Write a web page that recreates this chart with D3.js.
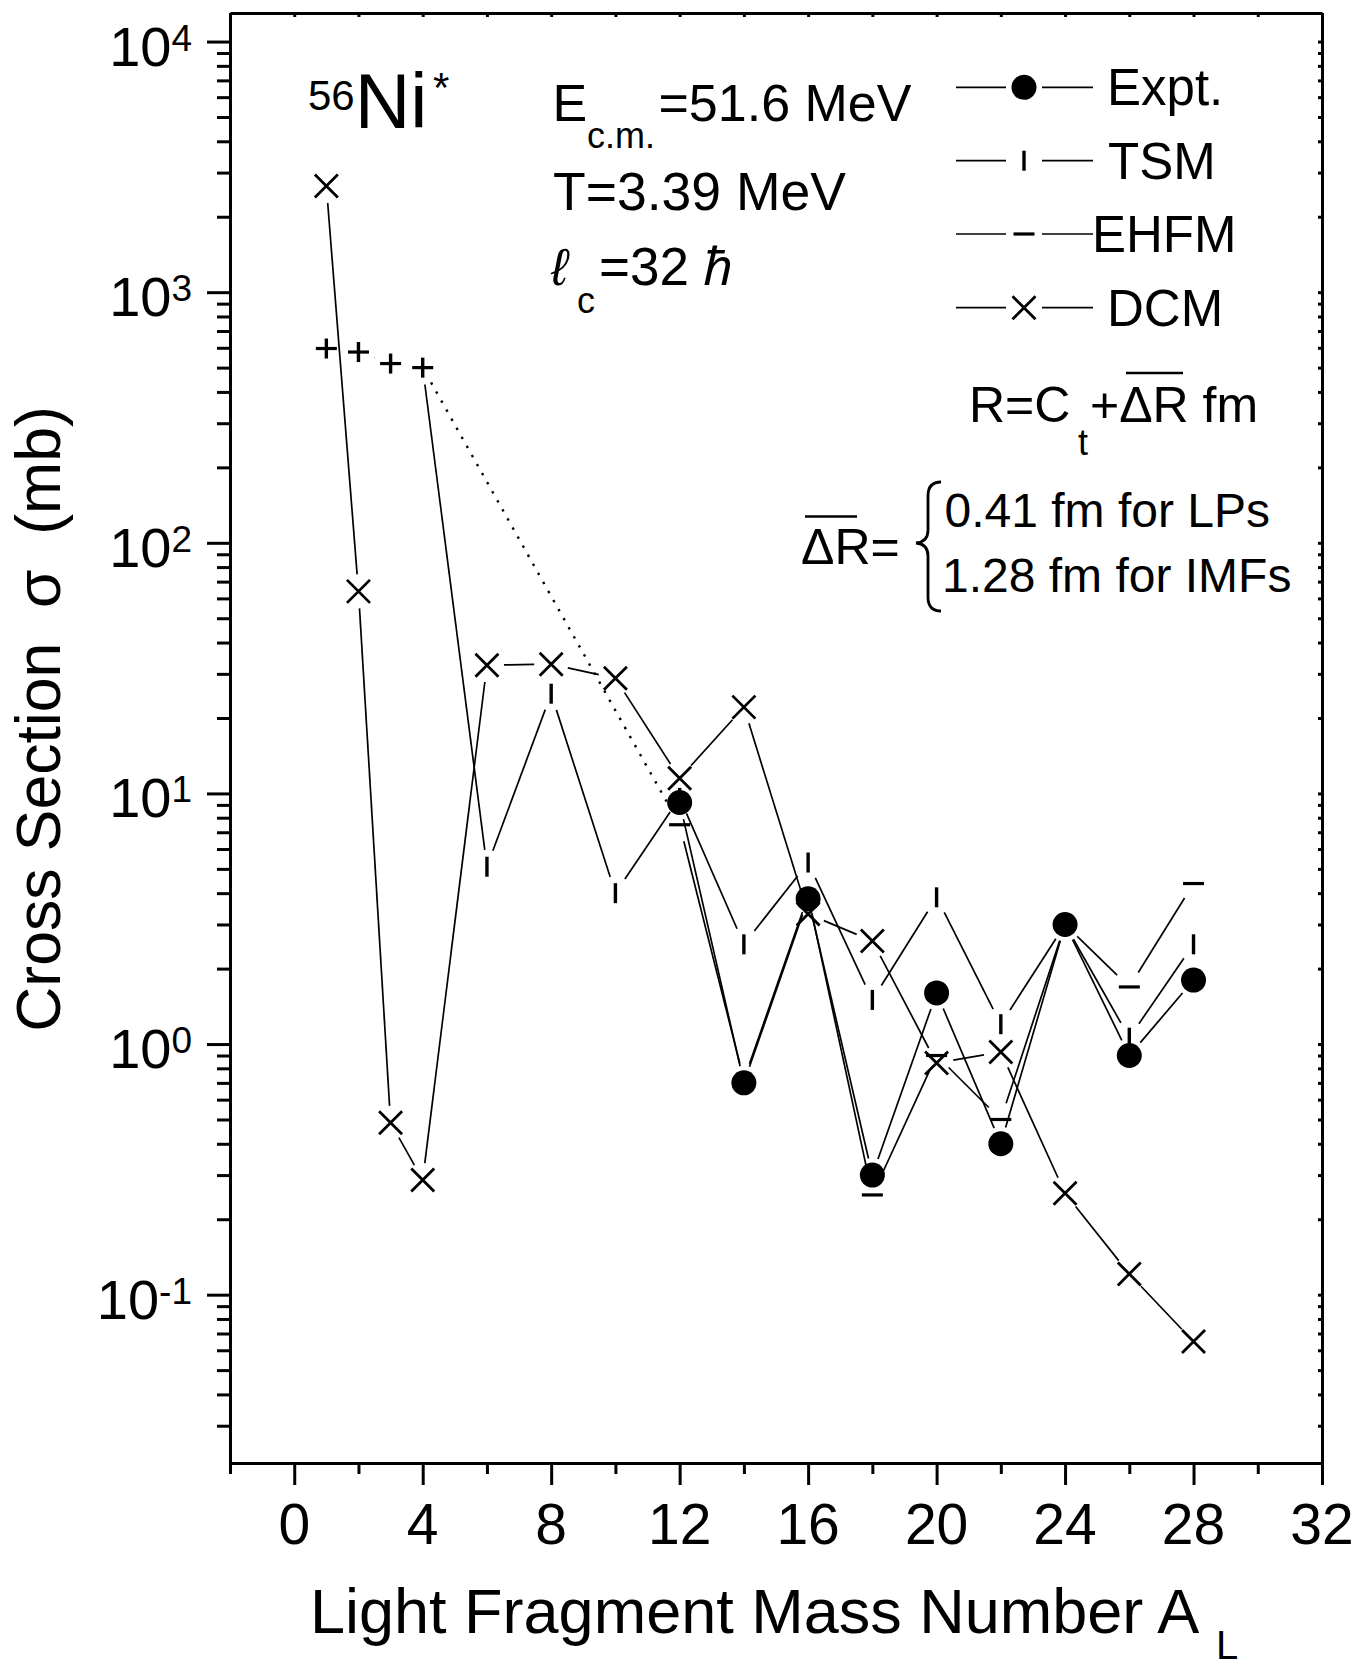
<!DOCTYPE html>
<html>
<head>
<meta charset="utf-8">
<script src="https://cdn.jsdelivr.net/npm/d3@7"></script>
<style>
  body { margin: 0; background: #fff; }
  svg { display: block; }
  text { font-family: "Liberation Sans", Arial, "Noto Sans", sans-serif; fill: #000; }
</style>
</head>
<body>
<svg id="chart" width="1358" height="1667"></svg>
<script>
// Light fragment mass number A_L and cross sections (mb) for 56Ni*
const exptA     = [12, 14, 16, 18, 20, 22, 24, 26, 28];
const exptSigma = [9.2, 0.70, 3.8, 0.30, 1.6, 0.40, 3.0, 0.90, 1.8];

const tsmA      = [1, 2, 3, 4, 6, 8, 10, 12, 14, 16, 18, 20, 22, 24, 26, 28];
const tsmSigma  = [596, 577, 519, 500, 5.1, 25, 4.0, 9.6, 2.5, 5.3, 1.5, 3.85, 1.2, 3.0, 1.06, 2.5];

const ehfmA     = [1, 2, 3, 4, 12, 14, 16, 18, 20, 22, 24, 26, 28];
const ehfmSigma = [596, 577, 519, 500, 7.5, 0.72, 3.9, 0.25, 0.9, 0.5, 3.0, 1.69, 4.37];

const dcmA      = [1, 2, 3, 4, 6, 8, 10, 12, 14, 16, 18, 20, 22, 24, 26, 28];
const dcmSigma  = [2650, 64, 0.485, 0.287, 32.5, 32.8, 28.8, 11.5, 22.1, 3.3, 2.58, 0.84, 0.93, 0.254, 0.121, 0.065];

const xMajorTicks = [0, 4, 8, 12, 16, 20, 24, 28, 32];
const xMinorTicks = [-2, 2, 6, 10, 14, 18, 22, 26, 30];
const yDecades    = [-1, 0, 1, 2, 3, 4];
const legendNames = ["Expt.", "TSM", "EHFM", "DCM"];

const svg = d3.select("#chart");
svg.append("rect").attr("width", 1358).attr("height", 1667).attr("fill", "#fff");

const x = d3.scaleLinear().domain([-2, 32]).range([230, 1322]);
const y = d3.scaleLog().domain([0.0213, 13000]).range([1463, 13]);

const [X0, X1] = x.range();
const [Y0, Y1] = y.range();

// log minor positions (2..9 in each decade) inside the domain
const yMinor = [];
for (let e = -2; e <= 4; e++) {
  for (let m = 2; m <= 9; m++) {
    const v = m * Math.pow(10, e);
    if (v >= y.domain()[0] && v <= y.domain()[1]) yMinor.push(v);
  }
}
const yMajor = yDecades.map(e => Math.pow(10, e));

function styleAxis(g, w) {
  g.selectAll("path.domain").attr("stroke", "#000").attr("stroke-width", 3);
  g.selectAll(".tick line").attr("stroke", "#000").attr("stroke-width", w);
  g.selectAll(".tick text").remove();
}

// left axis (outward ticks)
svg.append("g").attr("transform", `translate(${X0},0)`)
  .call(d3.axisLeft(y).tickValues(yMinor).tickSize(13).tickSizeOuter(0).tickFormat(""))
  .call(g => styleAxis(g, 3));
svg.append("g").attr("transform", `translate(${X0},0)`)
  .call(d3.axisLeft(y).tickValues(yMajor).tickSize(23).tickSizeOuter(0).tickFormat(""))
  .call(g => styleAxis(g, 3));

// bottom axis (outward ticks)
svg.append("g").attr("transform", `translate(0,${Y0})`)
  .call(d3.axisBottom(x).tickValues(xMinorTicks).tickSize(11).tickSizeOuter(0).tickFormat(""))
  .call(g => styleAxis(g, 3));
svg.append("g").attr("transform", `translate(0,${Y0})`)
  .call(d3.axisBottom(x).tickValues(xMajorTicks).tickSize(22).tickSizeOuter(0).tickFormat(""))
  .call(g => styleAxis(g, 3));

// top and right frame with short inner ticks
svg.append("g").attr("transform", `translate(0,${Y1})`)
  .call(d3.axisBottom(x).tickValues(xMajorTicks.concat(xMinorTicks)).tickSize(4).tickSizeOuter(0).tickFormat(""))
  .call(g => styleAxis(g, 3));
svg.append("g").attr("transform", `translate(${X1},0)`)
  .call(d3.axisLeft(y).tickValues(yMajor.concat(yMinor)).tickSize(4).tickSizeOuter(0).tickFormat(""))
  .call(g => styleAxis(g, 3));

// y tick labels 10^n
const yLab = svg.append("g").selectAll("text").data(yDecades).join("text")
  .attr("x", 192).attr("y", d => y(Math.pow(10, d)) + 24)
  .attr("text-anchor", "end").attr("font-size", 56);
yLab.append("tspan").text("10");
yLab.append("tspan").attr("font-size", 37).attr("dy", -15).text(d => String(d));

// x tick labels
svg.append("g").selectAll("text").data(xMajorTicks).join("text")
  .attr("x", d => x(d)).attr("y", Y0 + 81)
  .attr("text-anchor", "middle").attr("font-size", 57).text(d => d);

// axis titles
svg.append("text")
  .attr("transform", "translate(60,719) rotate(-90)")
  .attr("text-anchor", "middle").attr("font-size", 62.5)
  .attr("xml:space", "preserve").style("white-space", "pre")
  .text("Cross Section  \u03C3  (mb)");

svg.append("text").attr("x", 310).attr("y", 1633).attr("font-size", 63)
  .text("Light Fragment Mass Number A");
svg.append("text").attr("x", 1216).attr("y", 1659).attr("font-size", 40).text("L");

// series drawing helpers
function pts(A, S) { return A.map((a, i) => ({ A: a, v: S[i] })); }

function gappedSegments(data, gap, dottedTest) {
  const out = [];
  for (let i = 0; i < data.length - 1; i++) {
    const a = data[i], b = data[i + 1];
    const x0 = x(a.A), y0 = y(a.v), x1 = x(b.A), y1 = y(b.v);
    const dx = x1 - x0, dy = y1 - y0, L = Math.hypot(dx, dy);
    if (L <= 2 * gap) continue;
    const ux = dx / L, uy = dy / L;
    out.push({
      x0: x0 + ux * gap, y0: y0 + uy * gap,
      x1: x1 - ux * gap, y1: y1 - uy * gap,
      dotted: dottedTest ? dottedTest(a, b) : false
    });
  }
  return out;
}

function drawLines(data, dottedTest) {
  svg.append("g").selectAll("line").data(gappedSegments(data, 17, dottedTest)).join("line")
    .attr("x1", d => d.x0).attr("y1", d => d.y0)
    .attr("x2", d => d.x1).attr("y2", d => d.y1)
    .attr("stroke", "#000")
    .attr("stroke-width", d => d.dotted ? 2.4 : 1.7)
    .attr("stroke-dasharray", d => d.dotted ? "2.4,8" : null);
}

const markerDraw = {
  dot: g => g.append("circle").attr("r", 12.5).attr("fill", "#000"),
  bar: g => g.append("line").attr("x1", 0).attr("x2", 0).attr("y1", -10).attr("y2", 10)
            .attr("stroke", "#000").attr("stroke-width", 3.4),
  dash: g => g.append("line").attr("x1", -10.5).attr("x2", 10.5).attr("y1", 0).attr("y2", 0)
            .attr("stroke", "#000").attr("stroke-width", 3.2),
  cross: g => g.append("path").attr("d", "M-11.5,-11.5L11.5,11.5M-11.5,11.5L11.5,-11.5")
            .attr("stroke", "#000").attr("stroke-width", 2.8).attr("fill", "none")
};

function drawMarkers(data, kind) {
  svg.append("g").selectAll("g").data(data).join("g")
    .attr("transform", d => `translate(${x(d.A)},${y(d.v)})`)
    .each(function () { markerDraw[kind](d3.select(this)); });
}

const expt = pts(exptA, exptSigma);
const tsm  = pts(tsmA, tsmSigma);
const ehfm = pts(ehfmA, ehfmSigma);
const dcm  = pts(dcmA, dcmSigma);

drawLines(dcm);
drawLines(tsm);
drawLines(ehfm, (a, b) => b.A - a.A > 2);
drawLines(expt);

drawMarkers(dcm, "cross");
drawMarkers(tsm, "bar");
drawMarkers(ehfm, "dash");
drawMarkers(expt, "dot");

// legend
const legendKinds = ["dot", "bar", "dash", "cross"];
const legendRowY  = [87.3, 160.7, 234, 307.7];
const legendTextX = [1107, 1108, 1092, 1107];
legendNames.forEach((name, i) => {
  const ly = legendRowY[i];
  const g = svg.append("g");
  g.append("line").attr("x1", 956).attr("x2", 1006).attr("y1", ly).attr("y2", ly)
    .attr("stroke", "#000").attr("stroke-width", 1.7);
  g.append("line").attr("x1", 1042).attr("x2", 1093).attr("y1", ly).attr("y2", ly)
    .attr("stroke", "#000").attr("stroke-width", 1.7);
  const m = g.append("g").attr("transform", `translate(1024,${ly})`);
  markerDraw[legendKinds[i]](m);
  g.append("text").attr("x", legendTextX[i]).attr("y", ly + 18).attr("font-size", 51).text(name);
});

// annotations
const nuc = svg.append("text").attr("x", 308).attr("y", 110).attr("font-size", 42);
nuc.append("tspan").text("56");
nuc.append("tspan").attr("font-size", 77).attr("dy", 18).text("Ni");
svg.append("text").attr("x", 433).attr("y", 102).attr("font-size", 42).text("*");

svg.append("text").attr("x", 552.5).attr("y", 121).attr("font-size", 52).text("E");
svg.append("text").attr("x", 587).attr("y", 148).attr("font-size", 36).text("c.m.");
svg.append("text").attr("x", 658.5).attr("y", 121).attr("font-size", 52).text("=51.6 MeV");

svg.append("text").attr("x", 553).attr("y", 209.5).attr("font-size", 53.5).text("T=3.39 MeV");

svg.append("text").attr("x", 551).attr("y", 285).attr("font-size", 52).attr("font-style", "italic").text("\u2113");
svg.append("text").attr("x", 577).attr("y", 313).attr("font-size", 36).text("c");
svg.append("text").attr("x", 599).attr("y", 285).attr("font-size", 53).text("=32");
svg.append("text").attr("x", 703).attr("y", 285).attr("font-size", 52).attr("font-style", "italic").text("\u210F");

// R = C_t + mean ΔR
svg.append("text").attr("x", 969).attr("y", 422).attr("font-size", 50).text("R=C");
svg.append("text").attr("x", 1078).attr("y", 455).attr("font-size", 36).text("t");
svg.append("text").attr("x", 1090).attr("y", 422).attr("font-size", 50).text("+\u0394R fm");
svg.append("line").attr("x1", 1126).attr("x2", 1183).attr("y1", 373).attr("y2", 373)
  .attr("stroke", "#000").attr("stroke-width", 2.4);

// mean ΔR values with brace
svg.append("text").attr("x", 801).attr("y", 564).attr("font-size", 50).text("\u0394R=");
svg.append("line").attr("x1", 805).attr("x2", 857).attr("y1", 516.5).attr("y2", 516.5)
  .attr("stroke", "#000").attr("stroke-width", 2.4);
svg.append("path")
  .attr("d", "M941,482 Q928,482 928,496 L928,530 Q928,542 916,543 Q928,544 928,556 L928,597 Q928,611 941,611")
  .attr("fill", "none").attr("stroke", "#000").attr("stroke-width", 2.8);
svg.append("text").attr("x", 944.5).attr("y", 526.7).attr("font-size", 48).text("0.41 fm for LPs");
svg.append("text").attr("x", 942).attr("y", 591.7).attr("font-size", 48).text("1.28 fm for IMFs");
</script>
</body>
</html>
